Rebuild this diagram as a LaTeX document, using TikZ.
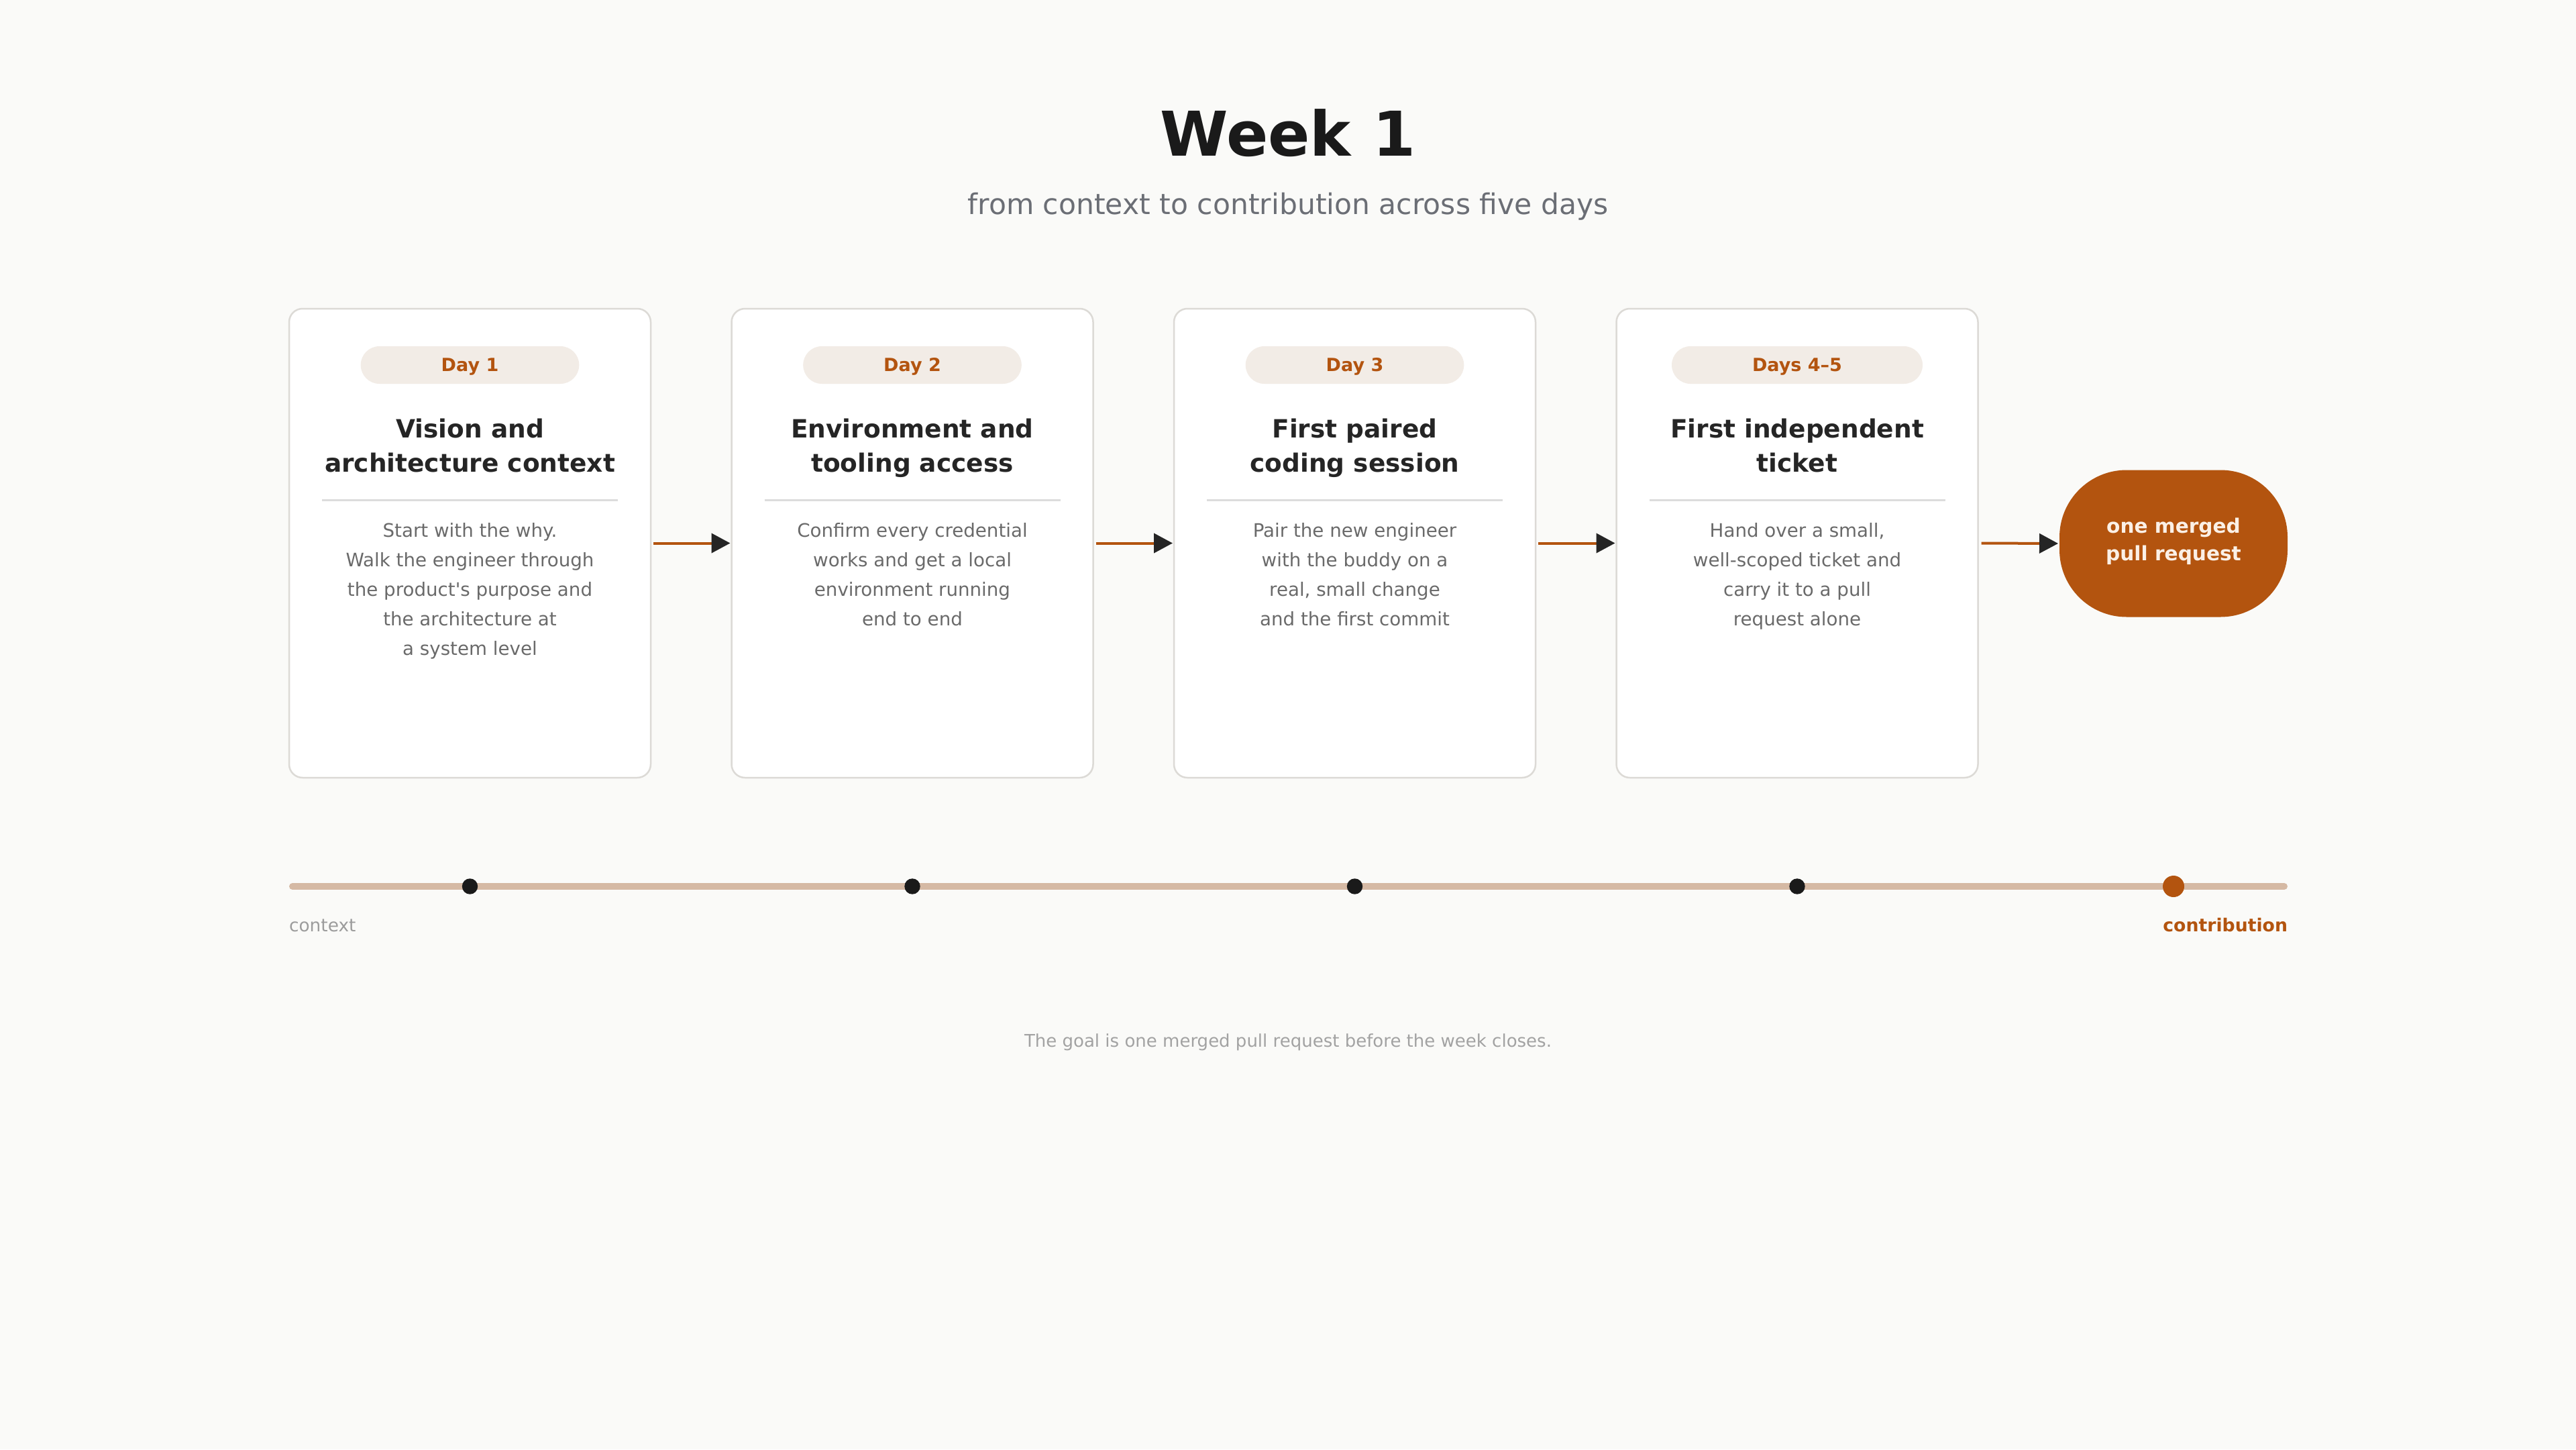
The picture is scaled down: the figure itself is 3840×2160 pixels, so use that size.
\documentclass[tikz,border=0pt]{standalone}
\usepackage{fontspec}
\setmainfont{DejaVu Sans}
\usetikzlibrary{arrows.meta}
\definecolor{bg}{HTML}{FAFAF8}
\definecolor{accent}{HTML}{B3540F}
\definecolor{pillbg}{HTML}{F2ECE6}
\definecolor{cardline}{HTML}{DCDAD6}
\definecolor{ink}{HTML}{1A1A1A}
\definecolor{subgray}{HTML}{6B6E75}
\definecolor{bodygray}{HTML}{6A6A6A}
\definecolor{faint}{HTML}{9C9C9C}
\definecolor{footgray}{HTML}{A2A2A2}
\definecolor{track}{HTML}{D5B9A4}
\definecolor{cream}{HTML}{FBF0E6}
\definecolor{sepline}{HTML}{DCDCDC}
\begin{document}
\begin{tikzpicture}[x=1pt,y=-1pt,
  txt/.style={inner sep=0pt, outer sep=0pt, anchor=base},
  bigtitle/.style={txt, font=\fontsize{92}{110}\selectfont\bfseries, text=ink},
  subtitle/.style={txt, font=\fontsize{42.5}{50}\selectfont, text=subgray},
  cardbox/.style={draw=cardline, line width=2.5pt, fill=white, rounded corners=20pt,
    minimum width=539pt, minimum height=699pt, inner sep=0pt, outer sep=0pt},
  pill/.style={fill=pillbg, rounded corners=28pt, minimum height=56pt, inner xsep=120pt,
    inner ysep=0pt, text height=19.7pt, text depth=0pt, outer sep=0pt,
    font=\fontsize{27}{32}\selectfont\bfseries, text=accent},
  ctitle/.style={txt, font=\fontsize{37.5}{45}\selectfont\bfseries, text=ink!95},
  sepstyle/.style={draw=sepline, line width=2.5pt},
  body/.style={txt, font=\fontsize{27.7}{33}\selectfont, text=bodygray},
  flow/.style={draw=accent, line width=4pt, -{Triangle[length=28pt,width=29pt,color=ink!95]}},
  goalbox/.style={fill=accent, rounded corners=100pt, minimum width=340pt, minimum height=219pt,
    inner sep=0pt, outer sep=0pt},
  goaltext/.style={txt, font=\fontsize{29.6}{36}\selectfont\bfseries, text=cream},
  trackline/.style={draw=track, line width=10pt, line cap=round},
  dot/.style={circle, fill=ink, minimum size=23.4pt, inner sep=0pt},
  enddot/.style={circle, fill=accent, minimum size=32pt, inner sep=0pt},
  ctxlabel/.style={txt, anchor=base west, font=\fontsize{26.4}{32}\selectfont, text=faint},
  conlabel/.style={txt, anchor=base east, font=\fontsize{26.7}{32}\selectfont\bfseries, text=accent},
  foot/.style={txt, font=\fontsize{26}{31}\selectfont, text=footgray}
]
\useasboundingbox (0,0) rectangle (3840,2160);
\fill[bg] (0,0) rectangle (3840,2160);

% title
\node[bigtitle] (title) at (1920,232) {Week 1};
\node[subtitle] (sub) at (1920,319) {from context to contribution across five days};

% cards
\node[cardbox] (card1) at (700.5,809.5) {};
\node[cardbox] (card2) at (1360,809.5) {};
\node[cardbox] (card3) at (2019.5,809.5) {};
\node[cardbox] (card4) at (2679,809.5) {};

% pills
\node[pill] (pill1) at (700.5,544) {Day 1};
\node[pill] (pill2) at (1360,544) {Day 2};
\node[pill] (pill3) at (2019.5,544) {Day 3};
\node[pill] (pill4) at (2679,544) {Days 4–5};

% card titles
\node[ctitle] (t1a) at (700.5,652) {Vision and};
\node[ctitle] (t1b) at (700.5,703.5) {architecture context};
\node[ctitle] (t2a) at (1360,652) {Environment and};
\node[ctitle] (t2b) at (1360,703.5) {tooling access};
\node[ctitle] (t3a) at (2019.5,652) {First paired};
\node[ctitle] (t3b) at (2019.5,703.5) {coding session};
\node[ctitle] (t4a) at (2679,652) {First independent};
\node[ctitle] (t4b) at (2679,703.5) {ticket};

% separators
\draw[sepstyle] (480,745.5) -- (921,745.5);
\draw[sepstyle] (1139.5,745.5) -- (1580.5,745.5);
\draw[sepstyle] (1799,745.5) -- (2240,745.5);
\draw[sepstyle] (2458.5,745.5) -- (2899.5,745.5);

% body texts
\foreach \l [count=\k] in {Start with the why., Walk the engineer through,
  {the product\textquotesingle s purpose and}, the architecture at, a system level}
  \node[body] (b1-\k) at (700.5,{800+44*(\k-1)}) {\l};
\foreach \l [count=\k] in {Confirm every credential, works and get a local,
  environment running, end to end}
  \node[body] (b2-\k) at (1360,{800+44*(\k-1)}) {\l};
\foreach \l [count=\k] in {Pair the new engineer, with the buddy on a,
  {real, small change}, and the first commit}
  \node[body] (b3-\k) at (2019.5,{800+44*(\k-1)}) {\l};
\foreach \l [count=\k] in {{Hand over a small,}, well-scoped ticket and,
  carry it to a pull, request alone}
  \node[body] (b4-\k) at (2679,{800+44*(\k-1)}) {\l};

% goal node
\node[goalbox] (goal) at (3240,810) {};
\node[goaltext] (g1) at (3240,794) {one merged};
\node[goaltext] (g2) at (3240,835) {pull request};

% connectors
\draw[flow] ([xshift=4pt]card1.east) -- ([xshift=-2pt]card2.west);
\draw[flow] ([xshift=4pt]card2.east) -- ([xshift=-2pt]card3.west);
\draw[flow] ([xshift=4pt]card3.east) -- ([xshift=-2pt]card4.west);
\draw[flow] ([xshift=5pt]card4.east) -- ([xshift=-2pt]goal.west);

% timeline
\coordinate (tl0) at (436,1321);
\coordinate (tl1) at (3405,1321);
\draw[trackline] (tl0) -- (tl1);
\node[dot] (d1) at (700.5,1321) {};
\node[dot] (d2) at (1360,1321) {};
\node[dot] (d3) at (2019.5,1321) {};
\node[dot] (d4) at (2679,1321) {};
\node[enddot] (d5) at (3240,1321) {};
\node[ctxlabel] (lctx) at (431,1388) {context};
\node[conlabel] (lcon) at (3410,1388) {contribution};

% footer
\node[foot] (foot) at (1920,1560) {The goal is one merged pull request before the week closes.};
\end{tikzpicture}
\end{document}
